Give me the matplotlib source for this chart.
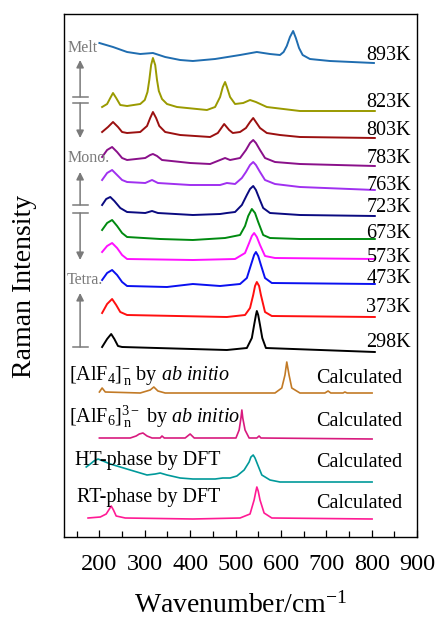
import numpy as np
import matplotlib
matplotlib.use("Agg")
import matplotlib.pyplot as plt
from matplotlib.ticker import MultipleLocator

plt.rcParams.update({
    "font.family": ["Liberation Serif", "DejaVu Serif"],
    "mathtext.fontset": "custom",
    "mathtext.rm": "Liberation Serif",
    "mathtext.it": "Liberation Serif:italic",
    "mathtext.bf": "Liberation Serif:bold",
})

# ---- stacked spectra (x: wavenumber / cm-1, y: stacked intensity, a.u.) ----
wn_893 = [200, 230, 261, 290, 318, 345, 378, 406, 455, 510, 547, 576, 598, 606, 613, 620, 627, 633, 640, 648, 664, 708, 805]
y_893 = [494, 490, 485, 483, 484, 480, 477, 476, 478, 482, 485, 483, 482, 485, 491, 500, 506, 499, 489, 482, 478, 476, 474]

wn_823 = [206, 217, 224, 230, 237, 246, 261, 290, 300, 306, 310, 314, 318, 323, 327, 331, 338, 349, 371, 437, 455, 466,
          472, 477, 481, 488, 499, 517, 532, 545, 569, 642, 807]
y_823 = [430, 433, 439, 444, 439, 432, 431, 433, 437, 445, 457, 472, 479, 472, 457, 446, 438, 433, 430, 427, 430, 440,
         450, 455, 450, 440, 433, 434, 437, 435, 430, 426, 426]

wn_803 = [206, 219, 230, 241, 250, 261, 290, 305, 312, 318, 325, 332, 345, 378, 444, 461, 475, 486, 494, 510, 523,
          532, 539, 545, 554, 569, 598, 642, 807]
y_803 = [405, 410, 415, 410, 405, 404, 405, 411, 419, 425, 419, 411, 405, 402, 400, 404, 413, 407, 404, 405, 409,
         415, 419, 415, 409, 404, 402, 400, 399]

wn_783 = [206, 217, 228, 239, 250, 261, 301, 312, 318, 327, 338, 400, 444, 466, 477, 488, 510, 523, 532, 539, 545,
          554, 565, 587, 642, 807]
y_783 = [380, 387, 390, 385, 379, 377, 379, 382, 383, 381, 377, 374, 373, 377, 379, 377, 379, 387, 394, 397, 394,
         387, 379, 375, 373, 371]

wn_763 = [206, 217, 228, 239, 250, 261, 301, 316, 329, 400, 466, 481, 499, 514, 523, 532, 539, 545, 554, 565, 587, 642, 807]
y_763 = [357, 364, 367, 362, 357, 355, 354, 357, 354, 352, 352, 354, 353, 359, 365, 372, 375, 372, 365, 357, 353, 350, 347]

wn_723 = [206, 215, 224, 233, 246, 261, 301, 316, 329, 406, 466, 481, 499, 514, 525, 532, 539, 545, 552, 561, 576, 642, 807]
y_723 = [332, 338, 340, 336, 329, 325, 324, 326, 324, 322, 323, 324, 325, 332, 342, 348, 351, 347, 339, 329, 324, 322, 321]

wn_673 = [206, 217, 228, 239, 250, 261, 334, 406, 477, 510, 521, 528, 536, 543, 550, 561, 576, 642, 807]
y_673 = [307, 314, 317, 311, 304, 300, 298, 297, 299, 302, 311, 321, 328, 324, 315, 302, 299, 298, 298]

wn_573 = [206, 217, 228, 239, 250, 261, 406, 499, 521, 530, 536, 541, 547, 554, 565, 587, 807]
y_573 = [285, 291, 294, 289, 282, 278, 277, 278, 284, 294, 301, 304, 300, 292, 281, 279, 278]

wn_473 = [206, 217, 228, 239, 250, 261, 349, 406, 466, 510, 525, 534, 541, 545, 550, 556, 565, 580, 807]
y_473 = [257, 264, 267, 262, 255, 251, 250, 253, 251, 253, 259, 272, 282, 285, 281, 272, 259, 254, 253]

wn_373 = [206, 217, 228, 237, 246, 261, 481, 521, 532, 539, 543, 547, 552, 556, 565, 580, 807]
y_373 = [224, 233, 238, 232, 225, 222, 220, 222, 229, 242, 251, 255, 251, 242, 225, 221, 220]

wn_298 = [206, 217, 226, 233, 241, 250, 481, 525, 536, 541, 545, 547, 550, 554, 559, 567, 807]
y_298 = [190, 198, 203, 198, 191, 190, 187, 189, 199, 212, 222, 226, 222, 212, 199, 189, 185]

# calculated spectra
wn_alf4 = [200, 206, 213, 290, 312, 320, 329, 345, 587, 602, 609, 613, 618, 624, 642, 697, 704, 710, 737, 741, 746, 801]
y_alf4 = [145, 149, 145, 144, 147, 150, 146, 144, 144, 149, 162, 175, 162, 149, 144, 144, 146, 144, 144, 145, 144, 144]

wn_alf6 = [200, 268, 281, 288, 296, 305, 316, 334, 338, 343, 389, 400, 409, 501, 508, 512, 514, 516, 521, 530, 547,
           552, 556, 801]
y_alf6 = [99, 99, 101, 103, 104, 101, 99, 99, 101, 99, 99, 103, 99, 99, 107, 119, 127, 119, 107, 99, 99,
          101, 99, 98]

wn_ht = [171, 180, 188, 197, 208, 224, 246, 268, 305, 323, 334, 349, 378, 406, 455, 472, 488, 503, 519, 530, 534,
         539, 543, 550, 558, 576, 598, 801]
y_ht = [70, 73, 76, 78, 76, 73, 70, 67, 62, 63, 64, 62, 59, 58, 58, 59, 59, 61, 67, 75, 80,
        82, 79, 71, 62, 57, 55, 55]

wn_rt = [175, 202, 215, 222, 226, 231, 237, 257, 406, 510, 532, 541, 545, 547, 550, 554, 563, 580, 801]
y_rt = [19, 20, 23, 28, 31, 27, 21, 19, 18, 19, 23, 37, 46, 50, 46, 37, 24, 19, 18]

temps = ["893K", "823K", "803K", "783K", "763K", "723K", "673K", "573K", "473K", "373K", "298K"]
calc_names = ["[AlF$_4$]$^{-}_{\\,\\mathrm{n}}$ by $ab\\ initio$",
              "[AlF$_6$]$^{3-}_{\\,\\mathrm{n}}$ by $ab\\ initio$",
              "HT-phase by DFT",
              "RT-phase by DFT"]

exp_x = [wn_893, wn_823, wn_803, wn_783, wn_763, wn_723, wn_673, wn_573, wn_473, wn_373, wn_298]
exp_y = [y_893, y_823, y_803, y_783, y_763, y_723, y_673, y_573, y_473, y_373, y_298]
calc_x = [wn_alf4, wn_alf6, wn_ht, wn_rt]
calc_y = [y_alf4, y_alf6, y_ht, y_rt]

exp_colors = ["#1f6db0", "#9a9a00", "#9b1010", "#8a108a", "#a030f0", "#0a0a80",
              "#008a10", "#ff10ff", "#0a10f0", "#ff1010", "#000000"]
calc_colors = ["#c27a26", "#d81a7e", "#00999a", "#ff1a94"]

# label baselines (stacked intensity units)
temp_label_y = [477, 430, 402, 374, 347, 325, 299, 275, 254, 225, 190]
calc_label_y = [154, 111, 70, 29]
name_label_y = [157, 114, 72, 35]
name_label_x = [133, 133, 146, 151]

fig = plt.figure(figsize=(4.37, 6.19), dpi=100)
ax = fig.add_axes([64 / 437, 1 - 537 / 619, 353 / 437, 523 / 619])

for xs, ys, c in zip(exp_x, exp_y, exp_colors):
    ax.plot(xs, ys, color=c, lw=1.4, solid_joinstyle="round")
for xs, ys, c in zip(calc_x, calc_y, calc_colors):
    ax.plot(xs, ys, color=c, lw=1.2, solid_joinstyle="round")

fs = 14.5
for t, y in zip(temps, temp_label_y):
    ax.text(887, y, t, ha="right", va="baseline", fontsize=fs)
for y in calc_label_y:
    ax.text(867, y, "Calculated", ha="right", va="baseline", fontsize=fs)
for name, x, y in zip(calc_names, name_label_x, name_label_y):
    ax.text(x, y, name, ha="left", va="baseline", fontsize=fs)

# phase annotations
gray = "#7a7a7a"
for lab, y in [("Melt", 485), ("Mono.", 375), ("Tetra.", 253)]:
    ax.text(129, y, lab, ha="left", va="baseline", fontsize=11.5, color=gray)

xa = 157.5
aprops = dict(arrowstyle="-|>", color=gray, lw=1.1, mutation_scale=11, shrinkA=0, shrinkB=0)
# Melt <-> Mono.
ax.annotate("", xy=(xa, 477), xytext=(xa, 440), arrowprops=aprops)
ax.annotate("", xy=(xa, 399), xytext=(xa, 434), arrowprops=aprops)
ax.plot([141, 174], [440, 440], color=gray, lw=1.1)
ax.plot([141, 174], [434, 434], color=gray, lw=1.1)
# Mono. <-> Tetra.
ax.annotate("", xy=(xa, 365), xytext=(xa, 332), arrowprops=aprops)
ax.annotate("", xy=(xa, 277), xytext=(xa, 324), arrowprops=aprops)
ax.plot([141, 174], [332, 332], color=gray, lw=1.1)
ax.plot([141, 174], [324, 324], color=gray, lw=1.1)
# Tetra.
ax.annotate("", xy=(xa, 244), xytext=(xa, 190), arrowprops=aprops)
ax.plot([141, 174], [190, 190], color=gray, lw=1.1)

ax.set_xlim(122, 900)
ax.set_ylim(0, 523)
ax.xaxis.set_major_locator(MultipleLocator(100))
ax.xaxis.set_minor_locator(MultipleLocator(50))
ax.set_yticks([])
ax.tick_params(axis="x", which="both", direction="in", top=False, labelsize=17.5, pad=12)
ax.tick_params(axis="x", which="major", length=5, width=0.9)
ax.tick_params(axis="x", which="minor", length=4, width=0.9)
for s in ax.spines.values():
    s.set_linewidth(1.0)

fig.text(240 / 437, 1 - 613 / 619, "Wavenumber/cm$^{-1}$", ha="center", va="baseline", fontsize=20)
fig.text(25 / 437, 1 - 286 / 619, "Raman Intensity", ha="center", va="center", rotation=90, fontsize=20)

fig.savefig("out.png", dpi=100)
